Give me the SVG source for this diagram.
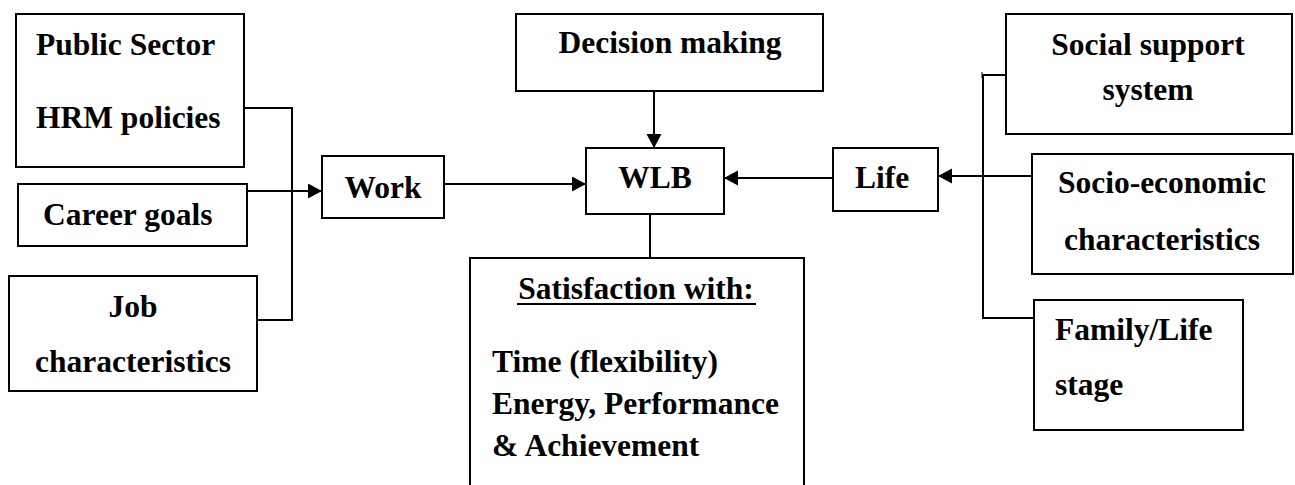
<svg xmlns="http://www.w3.org/2000/svg" width="1295" height="485" viewBox="0 0 1295 485">
<style>
.box{fill:#fff;stroke:#000;stroke-width:2}
.ln{fill:none;stroke:#000;stroke-width:2}
text{font-family:"Liberation Serif","Times New Roman",serif;font-weight:bold;font-size:31.5px;fill:#000}
.c{text-anchor:middle}
</style>
<defs>
<marker id="arr" markerUnits="userSpaceOnUse" markerWidth="15" markerHeight="16" refX="14" refY="7.5" orient="auto">
<path d="M0,0 L14,7.5 L0,15 z" fill="#000"/>
</marker>
</defs>
<rect width="1295" height="485" fill="#fff"/>
<g id="connectors">
<polyline class="ln" points="244,108 292,108 292,320 257,320"/>
<line class="ln" x1="247" y1="191" x2="322" y2="191" marker-end="url(#arr)"/>
<line class="ln" x1="444" y1="184" x2="586" y2="184" marker-end="url(#arr)"/>
<line class="ln" x1="654" y1="91" x2="654" y2="148" marker-end="url(#arr)"/>
<line class="ln" x1="833" y1="178" x2="724" y2="178" marker-end="url(#arr)"/>
<line class="ln" x1="650" y1="214" x2="650" y2="258"/>
<polyline class="ln" points="1006,75 983,75 983,318 1034,318"/>
<line x1="982" y1="72" x2="982" y2="78" stroke="#000" stroke-width="1"/>
<line class="ln" x1="1032" y1="176" x2="938" y2="176" marker-end="url(#arr)"/>
</g>
<g id="public-sector">
<rect class="box" x="16" y="14" width="228" height="153"/>
<text x="36" y="55">Public Sector</text>
<text x="36" y="128">HRM policies</text>
</g>
<g id="career-goals">
<rect class="box" x="18" y="184" width="229" height="62"/>
<text x="43" y="225">Career goals</text>
</g>
<g id="job-characteristics">
<rect class="box" x="9" y="276" width="248" height="115"/>
<text class="c" x="133" y="317">Job</text>
<text class="c" x="133" y="372">characteristics</text>
</g>
<g id="work">
<rect class="box" x="322" y="156" width="122" height="62"/>
<text class="c" x="383" y="198">Work</text>
</g>
<g id="decision-making">
<rect class="box" x="516" y="14" width="307" height="77"/>
<text class="c" x="670" y="53">Decision making</text>
</g>
<g id="wlb">
<rect class="box" x="586" y="148" width="138" height="66"/>
<text class="c" x="655" y="188">WLB</text>
</g>
<g id="satisfaction">
<rect class="box" x="470" y="258" width="334" height="240"/>
<text class="c" x="636" y="299">Satisfaction with:</text>
<line x1="517" y1="304" x2="756" y2="304" stroke="#000" stroke-width="2"/>
<text x="492" y="372">Time (flexibility)</text>
<text x="492" y="414">Energy, Performance</text>
<text x="492" y="456">&amp; Achievement</text>
</g>
<g id="life">
<rect class="box" x="833" y="148" width="105" height="63"/>
<text class="c" x="882" y="188">Life</text>
</g>
<g id="social-support">
<rect class="box" x="1006" y="14" width="286" height="120"/>
<text class="c" x="1148" y="55">Social support</text>
<text class="c" x="1148" y="100">system</text>
</g>
<g id="socio-economic">
<rect class="box" x="1032" y="154" width="261" height="120"/>
<text class="c" x="1162" y="193">Socio-economic</text>
<text class="c" x="1162" y="250">characteristics</text>
</g>
<g id="family-life">
<rect class="box" x="1034" y="300" width="209" height="130"/>
<text x="1055" y="340">Family/Life</text>
<text x="1055" y="395">stage</text>
</g>
</svg>
